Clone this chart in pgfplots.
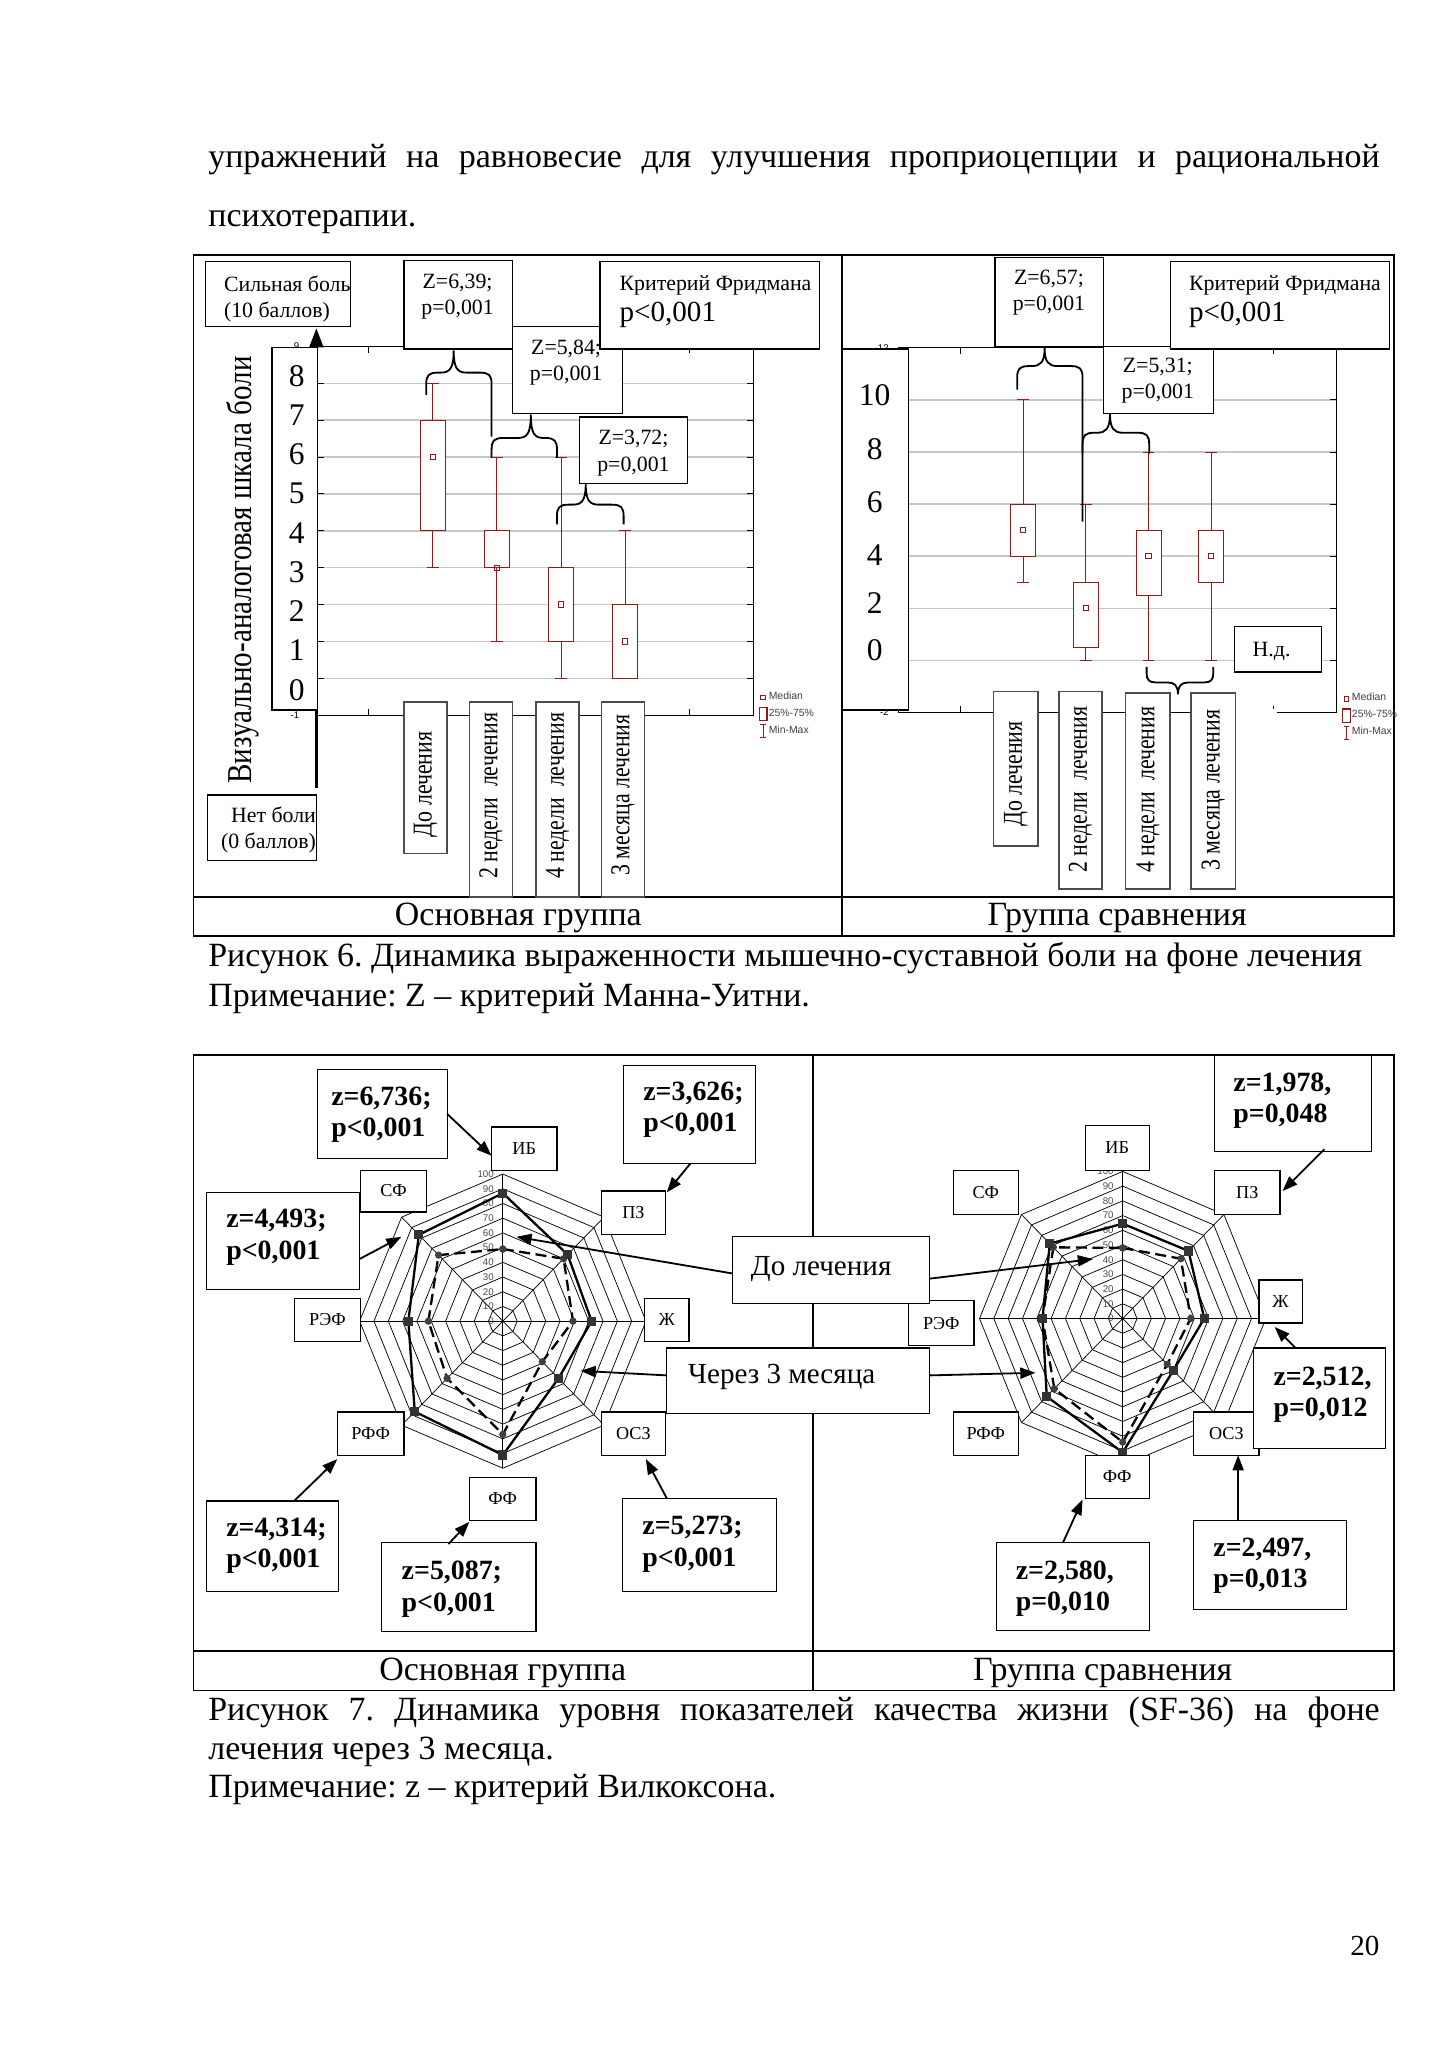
\documentclass[border=0pt]{standalone}
\usepackage{pgfplots}
\pgfplotsset{compat=1.18}
\usepgfplotslibrary{statistics}
\usetikzlibrary{arrows.meta}
\usepackage{fontspec}
\setmainfont{Liberation Serif}
\setsansfont{Liberation Sans}
\definecolor{boxred}{RGB}{150,25,25}
\frenchspacing

\newcommand{\wbox}[4]{\draw[line width=0.5pt, fill=white] (#1,#2) rectangle (#3,#4);}
\newcommand{\gbox}[4]{\draw[line width=0.6pt, draw=black!70, fill=white] (#1,#2) rectangle (#3,#4);}
\newcommand{\fA}{\fontsize{9}{10.8}\selectfont}
\newcommand{\fB}{\fontsize{12}{14}\selectfont}
\newcommand{\fT}{\fontsize{13}{15}\selectfont}
\newcommand{\fBody}{\fontsize{14}{17}\selectfont}
\newcommand{\fZ}{\bfseries\fontsize{11.5}{13}\selectfont}
\newcommand{\fL}{\fontsize{7.5}{9}\selectfont}
\newcommand{\cat}[1]{\scalebox{1}[1.25]{\fA #1}}
% x1 x2 yb xt yt yl yr
\newcommand{\braceup}[7]{\draw[line width=0.75pt] (#1,#6) -- (#1,#3+9) .. controls (#1,#3+2) and (#1+2,#3) .. (#1+9,#3) -- (#4-10,#3) .. controls (#4-3,#3) and (#4,#3-3) .. (#4,#5) .. controls (#4,#3-3) and (#4+3,#3) .. (#4+10,#3) -- (#2-9,#3) .. controls (#2-2,#3) and (#2,#3+2) .. (#2,#3+9) -- (#2,#7);}

\pgfplotsset{
  boxaxis/.style={
    axis line style={line width=0.45pt},
    xticklabels={}, yticklabels={},
    tick align=inside, major tick length=0.9mm,
    tick style={black, line width=0.4pt},
    ymajorgrids, major grid style={line width=0.6pt, color=black!22},
    clip=false,
    boxplot/draw direction=y,
    boxplot/draw/median/.code={},
    boxplot/every box/.style={fill=white},
    legend cell align=left,
    legend style={draw=none, fill=none, inner sep=0pt, row sep=1.2pt,
      font=\sffamily\fontsize{4.3}{5}\selectfont, text=black!75,
      nodes={inner sep=0.5pt}},
  },
  bx/.style={boxred, line width=0.4pt, forget plot},
  med/.style={only marks, mark=square, mark size=0.38mm, boxred, line width=0.4pt, forget plot},
  radar/.style={hide axis, clip=false, xmin=-100, xmax=100, ymin=-100, ymax=100,
    x=0.20754mm, y=0.21322mm, anchor=center},
  rgrid/.style={black, line width=0.3pt, data cs=polar, forget plot},
  after/.style={black, line width=0.95pt, data cs=polar, mark=square*, mark size=0.5mm,
    mark options={solid, fill=black!80, draw=black!80}},
  before/.style={black, line width=0.95pt, data cs=polar, dash pattern=on 1.6mm off 0.8mm,
    mark=*, mark size=0.35mm, mark options={solid, fill=black!75, draw=black!75}},
}

\begin{document}
\begin{tikzpicture}[x=0.18953mm, y=-0.18953mm]
\fill[white] (0,0) rectangle (1108,1568);
\useasboundingbox (0,0) rectangle (1108,1568);

% ---------------- body text ----------------
\node[anchor=base west, inner sep=0, font=\fBody] at (159,128) {\makebox[169.82mm][s]{упражнений на равновесие для улучшения проприоцепции и рациональной}};
\node[anchor=base west, inner sep=0, font=\fBody] at (159,173) {психотерапии.};

% ---------------- Figure 6 frame ----------------
\draw[line width=0.8pt] (148,195) rectangle (1066,716);
\draw[line width=0.8pt] (644,195) -- (644,716);
\draw[line width=0.8pt] (148,686) -- (1066,686);
\node[anchor=base, inner sep=0, font=\fBody] at (396.5,708) {Основная группа};
\node[anchor=base, inner sep=0, font=\fBody] at (854.5,708) {Группа сравнения};

% ---------------- left box plot ----------------
\begin{axis}[boxaxis, at={(46.0558mm,-103.6729mm)}, anchor=south west, x=9.281mm, y=5.345mm,
  xmin=-0.8, xmax=6, ymin=-1, ymax=9, xtick={0,5}, ytick={0,1,...,8},
  legend style={at={(1.012,0.068)}, anchor=north west}]
\addlegendimage{legend image code/.code={\draw[boxred, line width=0.35pt] (0.2mm,-0.35mm) rectangle (0.9mm,0.35mm);}}
\addlegendentry{Median}
\addlegendimage{legend image code/.code={\draw[boxred, line width=0.5pt] (0mm,-0.95mm) rectangle (1.1mm,0.95mm);}}
\addlegendentry{25\%-75\%}
\addlegendimage{legend image code/.code={\draw[boxred, line width=0.4pt] (0.55mm,-0.95mm) -- (0.55mm,0.95mm) (0.15mm,0.95mm) -- (0.95mm,0.95mm) (0.15mm,-0.95mm) -- (0.95mm,-0.95mm);}}
\addlegendentry{Min-Max}
\addplot[bx, boxplot prepared={draw position=1, lower whisker=3, lower quartile=4, median=6, upper quartile=7, upper whisker=8, box extend=0.4, whisker extend=0.2}] coordinates {};
\addplot[bx, boxplot prepared={draw position=2, lower whisker=1, lower quartile=3, median=3, upper quartile=4, upper whisker=6, box extend=0.4, whisker extend=0.2}] coordinates {};
\addplot[bx, boxplot prepared={draw position=3, lower whisker=0, lower quartile=1, median=2, upper quartile=3, upper whisker=6, box extend=0.4, whisker extend=0.2}] coordinates {};
\addplot[bx, boxplot prepared={draw position=4, lower whisker=0, lower quartile=0, median=1, upper quartile=2, upper whisker=4, box extend=0.4, whisker extend=0.2}] coordinates {};
\addplot[med] coordinates {(1,6) (2,3) (3,2) (4,1)};
\node[anchor=east, inner sep=0, xshift=-2.6mm, font=\sffamily\fontsize{4}{4}\selectfont] at (axis cs:-0.8,-1) {-1};
\node[anchor=east, inner sep=0, xshift=-2.6mm, font=\sffamily\fontsize{4}{4}\selectfont] at (axis cs:-0.8,9) {9};
\end{axis}

% ---------------- right box plot ----------------
\begin{axis}[boxaxis, at={(130.2071mm,-103.2939mm)}, anchor=south west, x=9.071mm, y=3.777mm,
  xmin=-1, xmax=6, ymin=-2, ymax=12, xtick={0,5}, ytick={0,2,...,10},
  legend style={at={(1.012,0.058)}, anchor=north west}]
\addlegendimage{legend image code/.code={\draw[boxred, line width=0.35pt] (0.2mm,-0.35mm) rectangle (0.9mm,0.35mm);}}
\addlegendentry{Median}
\addlegendimage{legend image code/.code={\draw[boxred, line width=0.5pt] (0mm,-0.95mm) rectangle (1.1mm,0.95mm);}}
\addlegendentry{25\%-75\%}
\addlegendimage{legend image code/.code={\draw[boxred, line width=0.4pt] (0.55mm,-0.95mm) -- (0.55mm,0.95mm) (0.15mm,0.95mm) -- (0.95mm,0.95mm) (0.15mm,-0.95mm) -- (0.95mm,-0.95mm);}}
\addlegendentry{Min-Max}
\addplot[bx, boxplot prepared={draw position=1, lower whisker=3, lower quartile=4, median=5, upper quartile=6, upper whisker=10, box extend=0.4, whisker extend=0.19}] coordinates {};
\addplot[bx, boxplot prepared={draw position=2, lower whisker=0, lower quartile=0.5, median=2, upper quartile=3, upper whisker=6, box extend=0.4, whisker extend=0.19}] coordinates {};
\addplot[bx, boxplot prepared={draw position=3, lower whisker=0, lower quartile=2.5, median=4, upper quartile=5, upper whisker=8, box extend=0.4, whisker extend=0.19}] coordinates {};
\addplot[bx, boxplot prepared={draw position=4, lower whisker=0, lower quartile=3, median=4, upper quartile=5, upper whisker=8, box extend=0.4, whisker extend=0.19}] coordinates {};
\addplot[med] coordinates {(1,5) (2,2) (3,4) (4,4)};
\node[anchor=east, inner sep=0, xshift=-1.3mm, font=\sffamily\fontsize{4}{4}\selectfont] at (axis cs:-1,-2) {-2};
\node[anchor=east, inner sep=0, xshift=-1.3mm, font=\sffamily\fontsize{4}{4}\selectfont] at (axis cs:-1,12) {12};
\end{axis}
\fill[white] (944,542) rectangle (977,549);

% ---------------- left panel overlays ----------------
\node[rotate=90, inner sep=0] at (185.5,436) {\scalebox{1}[1.2]{\fB Визуально-аналоговая шкала боли}};
\draw[line width=1.1pt, -{Triangle[length=2.8mm, width=2mm]}] (242,603) -- (242,251);
\wbox{208}{266}{243}{543}
\foreach \v/\yy in {8/288,7/317.3,6/347.2,5/377.7,4/407.8,3/437.6,2/467.7,1/497,0/527.6}
  \node[inner sep=0, font=\fT] at (227,\yy) {\v};
\wbox{157}{200}{268}{250}
\node[anchor=west, align=left, inner sep=0, font=\fA] at (171,228.5) {Сильная боль\\(10 баллов)};
\wbox{159}{608}{242}{658}
\node[anchor=east, align=right, inner sep=0, font=\fA] at (242,635) {Нет боли\\(0 баллов)};

\wbox{392}{250}{476}{316}
\node[align=center, inner sep=0, font=\fA] at (433,277.5) {Z=5,84;\\p=0,001};
\wbox{309}{199}{392}{267}
\node[align=center, inner sep=0, font=\fA] at (350,227) {Z=6,39;\\p=0,001};
\wbox{459}{200}{627}{267}
\node[anchor=west, inner sep=0, font=\fA] at (473.6,218) {Критерий Фридмана};
\node[anchor=west, inner sep=0, font=\fB] at (473.6,241) {p<0,001};
\wbox{443}{319}{526}{370}
\node[align=center, inner sep=0, font=\fA] at (484.5,346.6) {Z=3,72;\\p=0,001};

\braceup{326}{376}{285}{347}{268}{302}{334}
\braceup{376}{426}{335}{406}{317}{350}{350}
\braceup{426}{477}{386}{448}{370}{401}{401}

\gbox{309}{537}{342}{653}
\node[rotate=90, inner sep=0] at (325.5,600) {\cat{До лечения}};
\gbox{359}{537}{392}{686}
\node[rotate=90, inner sep=0] at (375.5,608.6) {\cat{2 недели~~лечения}};
\gbox{410}{537}{443}{686}
\node[rotate=90, inner sep=0] at (426.5,608.6) {\cat{4 недели~~лечения}};
\gbox{460}{537}{493}{686}
\node[rotate=90, inner sep=0] at (476.5,608) {\cat{3 месяца лечения}};

% ---------------- right panel overlays ----------------
\wbox{644}{267}{695}{543}
\foreach \v/\yy in {10/302.5,8/343.3,6/384,4/424.9,2/461.3,0/497}
  \node[inner sep=0, font=\fT] at (669,\yy) {\v};
\wbox{844}{265}{928}{316}
\node[align=center, inner sep=0, font=\fA] at (885.6,291) {Z=5,31;\\p=0,001};
\wbox{761}{197}{844}{265}
\node[align=center, inner sep=0, font=\fA] at (802.3,224) {Z=6,57;\\p=0,001};
\wbox{895}{200}{1063}{267}
\node[anchor=west, inner sep=0, font=\fA] at (909.2,218) {Критерий Фридмана};
\node[anchor=west, inner sep=0, font=\fB] at (909.2,241) {p<0,001};
\wbox{944}{479}{1011}{514}
\node[inner sep=0, font=\fA] at (972.6,498.3) {Н.д.};

\braceup{778}{828}{280}{799}{266}{298}{399}
\braceup{828}{879}{331}{849}{316}{347}{347}
\draw[line width=0.75pt] (877,510) -- (877,515) .. controls (877,520) and (879,522) .. (884,522) -- (893,522) .. controls (898,522) and (901,524) .. (901,531) .. controls (901,524) and (904,522) .. (909,522) -- (921,522) .. controls (926,522) and (928,520) .. (928,515) -- (928,510);

\gbox{760}{529}{794}{647}
\node[rotate=90, inner sep=0] at (777,592) {\cat{До лечения}};
\gbox{810}{529}{843}{680}
\node[rotate=90, inner sep=0] at (826.5,604) {\cat{2 недели~~лечения}};
\gbox{861}{530}{895}{680}
\node[rotate=90, inner sep=0] at (878,604) {\cat{4 недели~~лечения}};
\gbox{911}{530}{945}{680}
\node[rotate=90, inner sep=0] at (928,604.5) {\cat{3 месяца лечения}};

% ---------------- Figure 6 caption ----------------
\node[anchor=base west, inner sep=0, font=\fBody] at (159,739) {Рисунок 6. Динамика выраженности мышечно-суставной боли на фоне лечения};
\node[anchor=base west, inner sep=0, font=\fBody] at (159,770) {Примечание: Z – критерий Манна-Уитни.};

% ---------------- Figure 7 frame ----------------
\draw[line width=0.8pt] (148,807) rectangle (1066,1293);
\draw[line width=0.8pt] (622,807) -- (622,1293);
\draw[line width=0.8pt] (148,1263) -- (1066,1263);
\node[anchor=base, inner sep=0, font=\fBody] at (384.5,1285) {Основная группа};
\node[anchor=base, inner sep=0, font=\fBody] at (843.5,1285) {Группа сравнения};

% ---------------- left radar ----------------
\begin{axis}[radar, at={(72.8932mm,-191.5201mm)}]
\pgfplotsinvokeforeach{10,20,...,100}{
  \addplot[rgrid] coordinates {(0,#1) (45,#1) (90,#1) (135,#1) (180,#1) (225,#1) (270,#1) (315,#1) (360,#1)};
}
\pgfplotsinvokeforeach{0,45,...,315}{
  \addplot[rgrid] coordinates {(#1,0) (#1,100)};
}
\pgfplotsinvokeforeach{0,10,...,100}{
  \node[anchor=east, inner sep=0, text=black!70, font=\sffamily\fontsize{4}{4}\selectfont] at (axis cs:-6,#1) {#1};
}
% order: ИБ, ПЗ, Ж, ОСЗ, ФФ, РФФ, РЭФ, СФ
\addplot[before] coordinates {(90,49) (45,60) (0,49) (-45,39) (-90,77) (-135,55) (180,52) (135,63.5) (90,49)};
\addplot[after] coordinates {(90,87) (45,64) (0,62) (-45,55) (-90,91) (-135,87) (180,66) (135,83) (90,87)};
\end{axis}

% ---------------- right radar ----------------
\begin{axis}[radar, at={(162.7493mm,-191.1410mm)}]
\pgfplotsinvokeforeach{10,20,...,100}{
  \addplot[rgrid] coordinates {(0,#1) (45,#1) (90,#1) (135,#1) (180,#1) (225,#1) (270,#1) (315,#1) (360,#1)};
}
\pgfplotsinvokeforeach{0,45,...,315}{
  \addplot[rgrid] coordinates {(#1,0) (#1,100)};
}
\pgfplotsinvokeforeach{0,10,...,100}{
  \node[anchor=east, inner sep=0, text=black!70, font=\sffamily\fontsize{4}{4}\selectfont] at (axis cs:-6,#1) {#1};
}
\addplot[before] coordinates {(90,48) (45,57.5) (0,47.5) (-45,44) (-90,84) (-135,67.5) (180,56) (135,68.5) (90,48)};
\addplot[after] coordinates {(90,64.5) (45,65) (0,57) (-45,50) (-90,91) (-135,75) (180,56) (135,72) (90,64.5)};
\end{axis}

% ---------------- radar labels ----------------
\foreach \a/\b/\c/\d/\t in {376/862/426/895/ИБ, 460/911/509/944/ПЗ, 493/993/527/1026/Ж, 460/1080/509/1113/ОСЗ, 359/1130/410/1163/ФФ, 258/1080/309/1113/РФФ, 225/993/276/1026/РЭФ, 276/895/326/927/СФ,
  830/861/879/895/ИБ, 929/895/979/929/ПЗ, 963/979/996/1012/Ж, 913/1080/963/1113/ОСЗ, 830/1113/879/1146/ФФ, 729/1080/779/1113/РФФ, 695/995/745/1029/РЭФ, 729/895/779/929/СФ}
{
  \draw[line width=0.5pt, fill=white] (\a,\b) rectangle (\c,\d);
  \node[inner sep=0, font=\fL] at ({(\a+\c)/2},{(\b+\d)/2}) {\t};
}

% ---------------- z boxes and arrows ----------------
\tikzset{zarr/.style={line width=0.75pt, -{Triangle[length=2.2mm, width=1.6mm]}}}
\wbox{243}{818}{342}{886}
\node[anchor=west, align=left, inner sep=0, font=\fZ] at (253,852.8) {z=6,736;\\p<0,001};
\wbox{477}{815}{578}{890}
\node[anchor=west, align=left, inner sep=0, font=\fZ] at (491.7,848.8) {z=3,626;\\p<0,001};
\wbox{158}{912}{275}{986}
\node[anchor=west, align=left, inner sep=0, font=\fZ] at (172.7,946.3) {z=4,493;\\p<0,001};
\wbox{158}{1148}{259}{1217}
\node[anchor=west, align=left, inner sep=0, font=\fZ] at (172.7,1182.4) {z=4,314;\\p<0,001};
\wbox{292}{1180}{410}{1248}
\node[anchor=west, align=left, inner sep=0, font=\fZ] at (306.9,1215.7) {z=5,087;\\p<0,001};
\wbox{476}{1146}{594}{1217}
\node[anchor=west, align=left, inner sep=0, font=\fZ] at (491,1181.3) {z=5,273;\\p<0,001};

\wbox{929}{807}{1049}{881}
\node[anchor=west, align=left, inner sep=0, font=\fZ] at (943,841.8) {z=1,978,\\p=0,048};
\wbox{959}{1031}{1060}{1108}
\node[anchor=west, align=left, inner sep=0, font=\fZ] at (973.7,1066.7) {z=2,512,\\p=0,012};
\wbox{762}{1180}{879}{1247}
\node[anchor=west, align=left, inner sep=0, font=\fZ] at (776.6,1215) {z=2,580,\\p=0,010};
\wbox{913}{1163}{1030}{1231}
\node[anchor=west, align=left, inner sep=0, font=\fZ] at (927.7,1197.4) {z=2,497,\\p=0,013};

\draw[zarr] (342,852) -- (376,884);
\draw[zarr] (528,890) -- (510,912);
\draw[zarr] (275,963) -- (307,946);
\draw[zarr] (225,1148) -- (258,1116);
\draw[zarr] (343,1181) -- (359,1164);
\draw[zarr] (510,1146) -- (494,1116);
\draw[zarr] (1013,879) -- (981,911);
\draw[zarr] (991,1031) -- (975,1015);
\draw[zarr] (813,1180) -- (828,1147);
\draw[zarr] (947,1163) -- (947,1113);

% central legend boxes
\wbox{560}{946}{711}{997}
\node[anchor=west, inner sep=0, font=\fB] at (574,971) {До лечения};
\wbox{510}{1031}{711}{1081}
\node[anchor=west, inner sep=0, font=\fB] at (526,1053) {Через 3 месяца};
\draw[zarr] (560,974) -- (395,946);
\draw[zarr] (711,978) -- (836,963);
\draw[zarr] (510,1052) -- (444,1048.5);
\draw[zarr] (711,1052) -- (792,1050);

% ---------------- Figure 7 caption ----------------
\node[anchor=base west, inner sep=0, font=\fBody] at (159,1316) {\makebox[169.82mm][s]{Рисунок 7. Динамика уровня показателей качества жизни (SF-36) на фоне}};
\node[anchor=base west, inner sep=0, font=\fBody] at (159,1346) {лечения через 3 месяца.};
\node[anchor=base west, inner sep=0, font=\fBody] at (159,1375) {Примечание: z – критерий Вилкоксона.};

\node[anchor=base, inner sep=0, font=\fontsize{12}{14}\selectfont] at (1044,1496) {20};
\end{tikzpicture}
\end{document}
